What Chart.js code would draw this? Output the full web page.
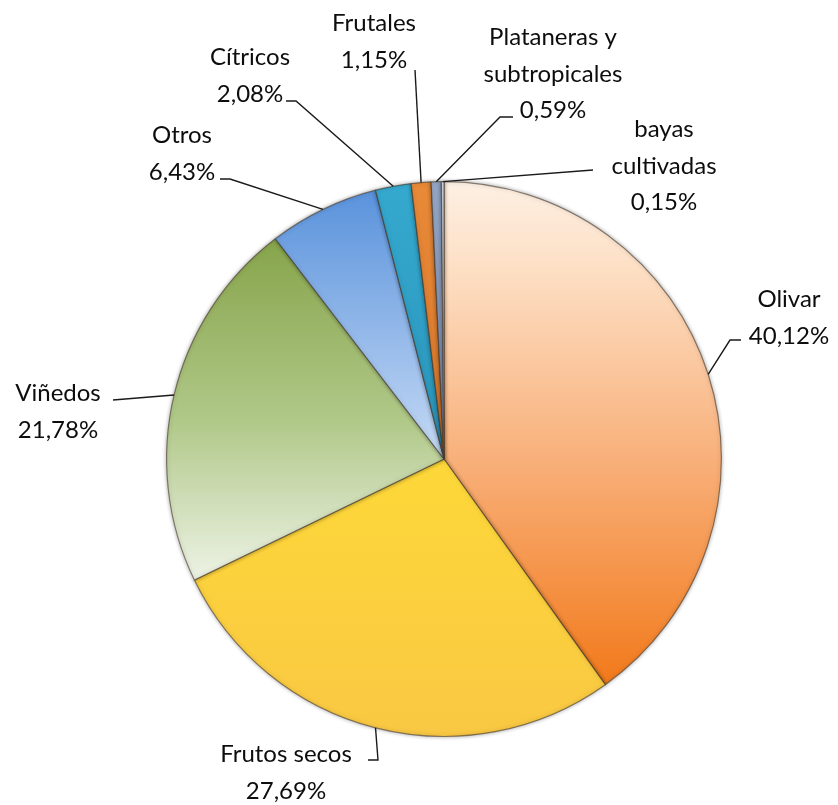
<!DOCTYPE html>
<html lang="es">
<head>
    <meta charset="UTF-8">
    <title>Superficie de cultivos leñosos</title>
    <script src="https://cdn.jsdelivr.net/npm/chart.js"></script>
    <style>
        html, body { margin: 0; padding: 0; background: #fff; }
        canvas { display: block; }
    </style>
</head>
<body>
    <canvas id="chart" width="838" height="805"></canvas>

    <script>
        // datos
        var categories = ['Olivar', 'Frutos secos', 'Viñedos', 'Otros', 'Cítricos', 'Frutales',
                          'Plataneras y\nsubtropicales', 'bayas\ncultivadas'];
        var values = [40.12, 27.69, 21.78, 6.43, 2.08, 1.15, 0.59, 0.15];

        // colores: paradas del degradado vertical (fraccion de la altura de la tarta)
        var sliceStops = [
            [[0.0, '#fdf0e4'], [0.15, '#fde0c6'], [0.5, '#f8b07a'], [0.9, '#f27a1c']],
            [[0.4, '#fedb36'], [1.0, '#f9c843']],
            [[0.1, '#86a44a'], [0.43, '#b0c888'], [0.72, '#eef3e6']],
            [[0.0, '#5690db'], [0.5, '#c6daf5']],
            [[0.0, '#35a9cf'], [0.6, '#2890b6']],
            [[0.0, '#e98a38'], [0.6, '#d47228']],
            [[0.0, '#95a7c6'], [0.6, '#6f84ab']],
            [[0.0, '#d8e0ec'], [0.6, '#b8c6da']]
        ];

        // posicion de las etiquetas: centro x, linea base de la primera linea, codos de la guia
        var labelLayout = [
            { x: 789, y: 307, guide: [[730, 340], [741, 340]] },
            { x: 286, y: 762, guide: [[378, 760], [368, 760]] },
            { x: 58,  y: 401, guide: [[113, 400]] },
            { x: 182, y: 143, guide: [[230, 179], [220, 179]] },
            { x: 250, y: 65,  guide: [[296, 101], [286, 101]] },
            { x: 374, y: 31,  guide: [[415, 70]] },
            { x: 553, y: 45,  guide: [[500, 117], [513, 117]] },
            { x: 664, y: 137, guide: [[593, 170]] }
        ];
        var lineGap = 36.5;

        function fmt(v) {
            return v.toFixed(2).replace('.', ',') + '%';
        }

        function sliceFill(context) {
            var chart = context.chart;
            var area = chart.chartArea;
            if (!area) return '#ccc';
            var stops = sliceStops[context.dataIndex];
            var g = chart.ctx.createLinearGradient(0, area.top, 0, area.bottom);
            stops.forEach(function(s) { g.addColorStop(s[0], s[1]); });
            return g;
        }

        var labelPlugin = {
            id: 'etiquetas',
            beforeDatasetsDraw: function(chart) {
                // sombra suave en el borde de los sectores
                var ctx = chart.ctx;
                ctx.save();
                ctx.shadowColor = 'rgba(0, 0, 0, 0.35)';
                ctx.shadowBlur = 4;
            },
            afterDatasetsDraw: function(chart) {
                var ctx = chart.ctx;
                ctx.restore();
                var arcs = chart.getDatasetMeta(0).data;
                ctx.save();
                ctx.strokeStyle = '#1a1a1a';
                ctx.lineWidth = 1.4;
                arcs.forEach(function(arc, i) {
                    var mid = (arc.startAngle + arc.endAngle) / 2;
                    var sx = arc.x + Math.cos(mid) * arc.outerRadius;
                    var sy = arc.y + Math.sin(mid) * arc.outerRadius;
                    ctx.beginPath();
                    ctx.moveTo(sx, sy);
                    labelLayout[i].guide.forEach(function(p) { ctx.lineTo(p[0], p[1]); });
                    ctx.stroke();
                });

                ctx.fillStyle = '#0d0d0d';
                ctx.font = '24px Lato';
                ctx.textAlign = 'center';
                ctx.textBaseline = 'alphabetic';
                categories.forEach(function(cat, i) {
                    var lines = cat.split('\n');
                    lines.push(fmt(values[i]));
                    var l = labelLayout[i];
                    lines.forEach(function(t, k) {
                        ctx.fillText(t, l.x, l.y + k * lineGap);
                    });
                });
                ctx.restore();
            }
        };

        var ctx = document.getElementById('chart').getContext('2d');
        var chart = new Chart(ctx, {
            type: 'pie',
            data: {
                labels: categories,
                datasets: [{
                    data: values,
                    backgroundColor: sliceFill,
                    borderColor: 'rgba(70, 55, 40, 0.6)',
                    borderWidth: 1.2
                }]
            },
            options: {
                responsive: false,
                animation: false,
                layout: {
                    padding: { top: 181, bottom: 68, left: 166, right: 116 }
                },
                plugins: {
                    legend: { display: false },
                    tooltip: { enabled: false }
                }
            },
            plugins: [labelPlugin]
        });
    </script>
</body>
</html>
